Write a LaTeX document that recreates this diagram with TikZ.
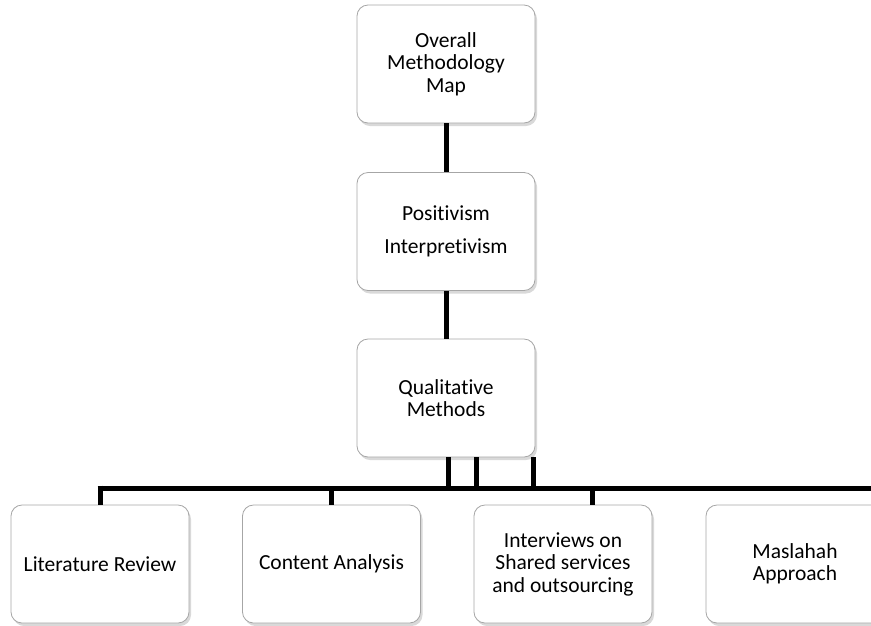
\documentclass[tikz,border=0pt]{standalone}
\usepackage{fontspec}
\setmainfont{Carlito}[Ligatures=NoCommon]
\usetikzlibrary{shadows}
\begin{document}
\begin{tikzpicture}[x=1pt,y=-1pt,
  box/.style={draw=gray!70, line width=0.8pt, fill=white, rounded corners=11pt,
    minimum width=178pt, minimum height=118pt, align=center, inner sep=2pt,
    font=\fontsize{21.5}{22.5}\selectfont,
    drop shadow={shadow xshift=2pt, shadow yshift=-3pt, opacity=0.3, fill=gray}},
  link/.style={line width=5pt, line cap=butt, black}]
\useasboundingbox (0,0) rectangle (871,625);
\clip (0,0) rectangle (871,625);
% upper chain
\node[box] (map) at (446,64) {Overall\\Methodology\\Map};
\node[box] (para) at (446,231.5) {Positivism\\[10.5pt]Interpretivism};
\node[box] (qual) at (446,398) {Qualitative\\Methods};
% lower row
\node[box] (lit) at (100,564) {Literature Review};
\node[box] (cont) at (331.5,564) {Content Analysis};
\node[box] (intv) at (563,564) {Interviews on\\Shared services\\and outsourcing};
\node[box] (masl) at (795,564) {Maslahah\\Approach};
% branching bar
\coordinate (barL) at (100,488);
\coordinate (barR) at (880,488);
\coordinate (d1) at (448,488);
\coordinate (d2) at (476,488);
\coordinate (d3) at (533,488);
\coordinate (d4) at (592,488);
\begin{scope}[link]
\draw (map.south) -- (para.north);
\draw (para.south) -- (qual.north);
\draw (qual.south -| d1) -- (d1);
\draw (qual.south -| d2) -- (d2);
\draw (qual.south -| d3) -- (d3);
\draw ([yshift=2.5pt]barL) -- (lit.north);
\draw ([xshift=-2.5pt]barL) -- (barR);
\draw (barL -| cont.north) -- (cont.north);
\draw (d4) -- (intv.north -| d4);
\end{scope}
\end{tikzpicture}
\end{document}
